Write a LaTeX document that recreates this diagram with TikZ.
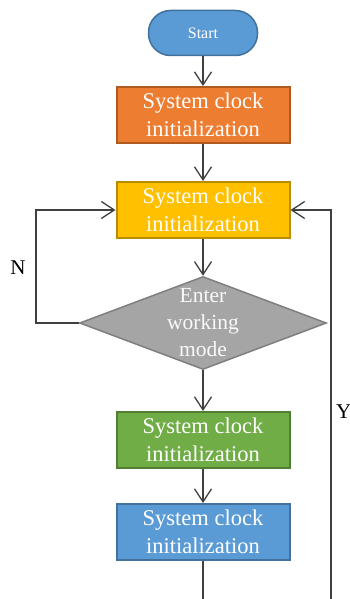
\documentclass[tikz,border=0pt]{standalone}
\usepackage{fontspec}
\setmainfont{Liberation Serif}
\usetikzlibrary{arrows.meta,shapes.geometric}
\definecolor{lineC}{HTML}{404040}
\definecolor{blueF}{HTML}{5B9BD5}
\definecolor{blueD}{HTML}{41719C}
\definecolor{orangeF}{HTML}{ED7D31}
\definecolor{orangeD}{HTML}{AE5A21}
\definecolor{yellowF}{HTML}{FFC000}
\definecolor{yellowD}{HTML}{BC8C00}
\definecolor{grayF}{HTML}{A5A5A5}
\definecolor{grayD}{HTML}{7F7F7F}
\definecolor{greenF}{HTML}{70AD47}
\definecolor{greenD}{HTML}{507E32}
\tikzset{
  procbox/.style={rectangle, minimum width=173pt, minimum height=56pt, inner sep=0pt,
    line width=2pt, text=white, align=center,
    font=\fontsize{22.5}{28}\selectfont},
  startbox/.style={rectangle, rounded corners=22pt, minimum width=109pt, minimum height=45pt,
    inner sep=0pt, line width=1.5pt, fill=blueF, draw=blueD, text=white,
    font=\fontsize{16}{19}\selectfont},
  decbox/.style={diamond, minimum width=247pt, minimum height=93pt, inner sep=0pt,
    line width=1.5pt, fill=grayF, draw=grayD},
  dectext/.style={align=center, text=white!95!gray, inner sep=0pt,
    font=\fontsize{21.5}{27}\selectfont},
  lbl/.style={font=\fontsize{21}{25}\selectfont, text=black, inner sep=0pt},
  conn/.style={draw=lineC, line width=1.3pt},
  arr/.style={conn, -{Straight Barb[length=13pt,width=17pt,line width=1.3pt]}},
}
\begin{document}
\begin{tikzpicture}[x=1pt,y=-1pt]
\useasboundingbox (0,0) rectangle (349,599);
\node[startbox] (start) at (203,33) {Start};
\node[procbox, fill=orangeF, draw=orangeD] (p1) at (203,115) {System clock\\initialization};
\node[procbox, fill=yellowF, draw=yellowD] (p2) at (203,210) {System clock\\initialization};
\node[decbox] (dec) at (203,323) {};
\node[dectext] (dect) at (203,323) {Enter\\working\\mode};
\node[procbox, fill=greenF, draw=greenD] (p3) at (203,440) {System clock\\initialization};
\node[procbox, fill=blueF, draw=blueD] (p4) at (203,532) {System clock\\initialization};
\coordinate (bend) at (203,600);
\coordinate (leftx) at (36,0);
\coordinate (rb) at (331,600);
\node[lbl] (nlab) at (18,268) {N};
\node[lbl, anchor=west] (ylab) at (336,412) {Y};
\draw[arr] (start) -- (p1);
\draw[arr] (p1) -- (p2);
\draw[arr] (p2) -- (dec.north);
\draw[arr] (dec.south) -- (p3);
\draw[arr] (p3) -- (p4);
\draw[conn] (p4) -- (bend);
\draw[arr] (dec.west) -- (leftx |- dec.west) |- (p2.west);
\draw[arr] (rb) |- (p2.east);
\end{tikzpicture}
\end{document}
